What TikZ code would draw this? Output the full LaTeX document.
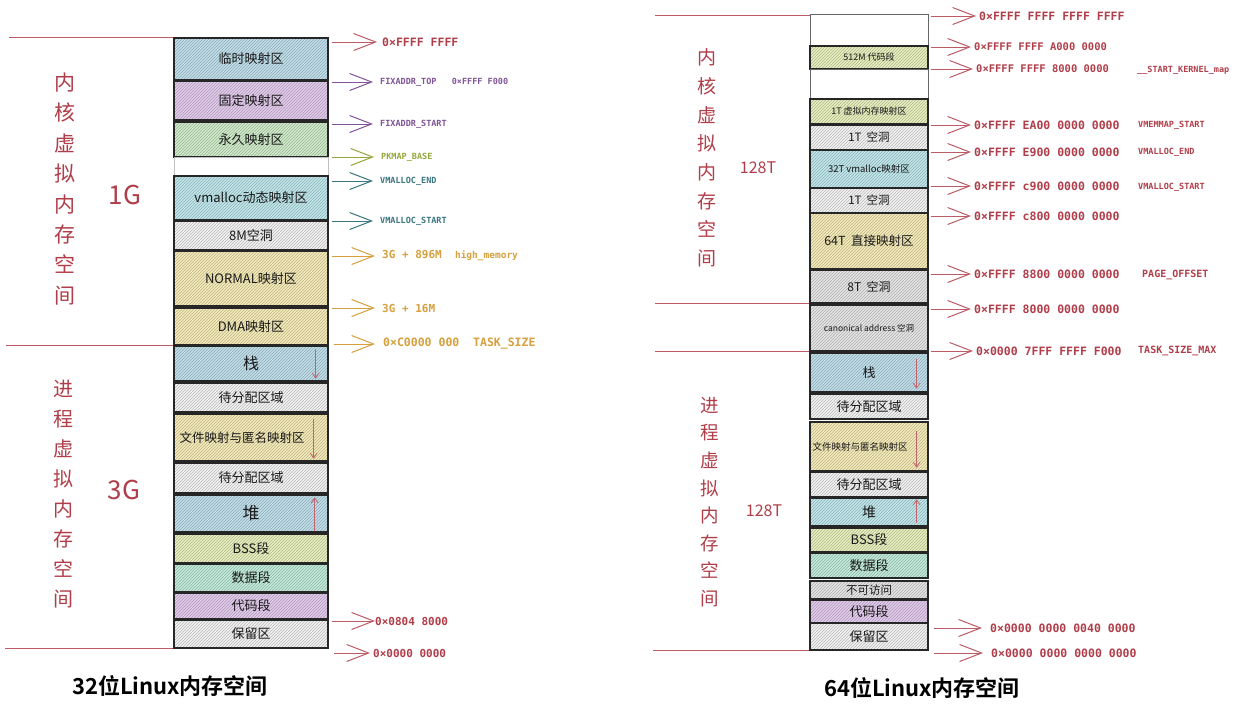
\documentclass[tikz,border=0pt]{standalone}
\usepackage{fontspec}
\setmainfont{Noto Sans CJK SC}[BoldFont={* Bold}]
\newfontfamily\mono{DejaVu Sans Mono}
\usetikzlibrary{patterns,arrows.meta}

\definecolor{cred}{RGB}{176,62,74}
\definecolor{cpurple}{RGB}{128,84,150}
\definecolor{colive}{RGB}{150,165,60}
\definecolor{cteal}{RGB}{58,118,128}
\definecolor{cgold}{RGB}{214,160,62}
\definecolor{fblue}{RGB}{192,224,236}
\definecolor{fpurple}{RGB}{228,204,238}
\definecolor{fgreen}{RGB}{208,236,202}
\definecolor{fcyan}{RGB}{192,232,236}
\definecolor{fgray}{RGB}{244,244,244}
\definecolor{fyellow}{RGB}{246,236,184}
\definecolor{flime}{RGB}{232,240,190}
\definecolor{fmint}{RGB}{194,236,220}
\definecolor{fdark}{RGB}{230,230,230}

\tikzset{
  seg/.style={draw=black!85, line width=1.3pt, minimum width=154pt, inner sep=0pt,
    preaction={fill=#1}, pattern=north east lines, pattern color=#1!75!black,
    text=black!90, font=\fontsize{13}{13}\selectfont},
  rseg/.style={seg=#1, minimum width=118pt},
  blank/.style={draw=black!60, line width=1pt, fill=white, inner sep=0pt},
  addr/.style={anchor=west, inner sep=0pt, font=\mono\bfseries\fontsize{11.5}{11.5}\selectfont},
  note/.style={anchor=west, inner sep=0pt, text=cred, font=\mono\bfseries\fontsize{8.5}{8.5}\selectfont},
  pt/.style={-{Straight Barb[length=22pt,width=17pt,line width=1pt]}, line width=0.9pt},
  sepline/.style={draw=cred!85, line width=0.9pt},
  vtext/.style={text=cred, align=center},
  growarrow/.style={-{Straight Barb[length=5pt,width=7pt]}, cred!80, line width=0.8pt},
}

\begin{document}
\begin{tikzpicture}[x=1pt, y=-1pt]
        \fill[white] (0,0) rectangle (1235,713);
        \useasboundingbox (0,0) rectangle (1235,713);

        % 32位: 内核空间
        \node[seg=fblue, minimum height=42pt] (ltmp) at (251,59) {临时映射区};
        \node[seg=fpurple, minimum height=39pt] (lfix) at (251,100.5) {固定映射区};
        \node[seg=fgreen, minimum height=35pt] (lperm) at (251,139.5) {永久映射区};
        \node[blank, draw=black!25, minimum width=154pt, minimum height=18pt] (lgap) at (251,166) {};
        \node[seg=fcyan, minimum height=44pt] (lvm) at (251,198) {vmalloc动态映射区};
        \node[seg=fgray, minimum height=29pt] (l8m) at (251,235.5) {8M空洞};
        \node[seg=fyellow, minimum height=55pt] (lnorm) at (251,278.5) {NORMAL映射区};
        \node[seg=fyellow, minimum height=37pt] (ldma) at (251,326.5) {DMA映射区};

        % 32位: 用户空间
        \node[seg=fblue, minimum height=35pt, font=\fontsize{16}{16}\selectfont] (lstack) at (251,363.5) {栈};
        \node[seg=fgray, minimum height=29pt] (lfree1) at (251,397.5) {待分配区域};
        \node[seg=fyellow, minimum height=47pt, font=\fontsize{12.5}{12.5}\selectfont] (lmmap) at (251,437.5) {文件映射与匿名映射区\hspace*{18pt}};
        \node[seg=fgray, minimum height=30pt] (lfree2) at (251,478) {待分配区域};
        \node[seg=fblue, minimum height=37pt, font=\fontsize{17}{17}\selectfont] (lheap) at (251,513.5) {堆};
        \node[seg=flime, minimum height=29pt] (lbss) at (251,548.5) {BSS段};
        \node[seg=fmint, minimum height=28pt] (ldata) at (251,578) {数据段};
        \node[seg=fpurple, minimum height=26pt] (ltext) at (251,606) {代码段};
        \node[seg=fgray, minimum height=28pt] (lres) at (251,634) {保留区};

        % 伸びる方向
        \draw[growarrow] ([xshift=-13pt,yshift=-4pt]lstack.north east) -- ([xshift=-13pt,yshift=3pt]lstack.south east);
        \draw[growarrow] ([xshift=-15pt,yshift=-6pt]lmmap.north east) -- ([xshift=-15pt,yshift=3pt]lmmap.south east);
        \draw[growarrow] ([xshift=-14pt,yshift=2pt]lheap.south east) -- ([xshift=-14pt,yshift=-3pt]lheap.north east);

        % 区切り線とラベル
        \draw[sepline] (ltmp.north west) -- ++(-164,0);
        \draw[sepline] (ldma.south west) -- ++(-167,0);
        \draw[sepline] (lres.south west) -- ++(-168,0);
        \node[vtext, font=\fontsize{21}{30.4}\selectfont] (lkern) at (65,189) {内\\核\\虚\\拟\\内\\存\\空\\间};
        \node[vtext, font=\fontsize{20}{30}\selectfont] (luser) at (63,494) {进\\程\\虚\\拟\\内\\存\\空\\间};
        \node[text=cred, font=\fontsize{26}{26}\selectfont] (l1g) at (125,195) {1G};
        \node[text=cred, font=\fontsize{26}{26}\selectfont] (l3g) at (124,490) {3G};

        % 32位: アドレス
        \node[addr, text=cred] (la1) at (382,42) {0×FFFF FFFF};
        \node[addr, text=cpurple, font=\mono\bfseries\fontsize{8.5}{8.5}\selectfont] (la2) at (380,82) {FIXADDR\_TOP\ \ \ 0×FFFF F000};
        \node[addr, text=cpurple, font=\mono\bfseries\fontsize{8.5}{8.5}\selectfont] (la3) at (380,124) {FIXADDR\_START};
        \node[addr, text=colive, font=\mono\bfseries\fontsize{8.5}{8.5}\selectfont] (la4) at (381,157) {PKMAP\_BASE};
        \node[addr, text=cteal, font=\mono\bfseries\fontsize{8.5}{8.5}\selectfont] (la5) at (380,181) {VMALLOC\_END};
        \node[addr, text=cteal, font=\mono\bfseries\fontsize{8.5}{8.5}\selectfont] (la6) at (380,221) {VMALLOC\_START};
        \node[addr, text=cgold, font=\mono\bfseries\fontsize{11}{11}\selectfont] (la7) at (382,256) {3G + 896M\ \ {\fontsize{9.5}{9.5}\selectfont high\_memory}};
        \node[addr, text=cgold, font=\mono\bfseries\fontsize{11}{11}\selectfont] (la8) at (382,308) {3G + 16M};
        \node[addr, text=cgold] (la9) at (383,344) {0×C0000 000\ \ TASK\_SIZE};
        \node[addr, text=cred, font=\mono\bfseries\fontsize{11}{11}\selectfont] (la10) at (375,621) {0×0804 8000};
        \node[addr, text=cred, font=\mono\bfseries\fontsize{11}{11}\selectfont] (la11) at (373,653) {0×0000 0000};
        \draw[pt, cred!85, shorten <=3pt, shorten >=5pt] (la1.west -| ltmp.east) -- (la1.west);
        \draw[pt, cpurple, shorten <=3pt, shorten >=7pt] (la2.west -| ltmp.east) -- (la2.west);
        \draw[pt, cpurple, shorten <=3pt, shorten >=7pt] (la3.west -| ltmp.east) -- (la3.west);
        \draw[pt, colive, shorten <=3pt, shorten >=7pt] (la4.west -| ltmp.east) -- (la4.west);
        \draw[pt, cteal, shorten <=3pt, shorten >=7pt] (la5.west -| ltmp.east) -- (la5.west);
        \draw[pt, cteal, shorten <=3pt, shorten >=7pt] (la6.west -| ltmp.east) -- (la6.west);
        \draw[pt, cgold, shorten <=3pt, shorten >=7pt] (la7.west -| ltmp.east) -- (la7.west);
        \draw[pt, cgold, shorten <=3pt, shorten >=7pt] (la8.west -| ltmp.east) -- (la8.west);
        \draw[pt, cgold, shorten <=5pt, shorten >=8pt] (la9.west -| ltmp.east) -- (la9.west);
        \draw[pt, cred!85, shorten <=3pt, shorten >=0pt] (la10.west -| ltmp.east) -- (la10.west);
        \draw[pt, cred!85, shorten <=5pt, shorten >=3pt] (la11.west -| ltmp.east) -- (la11.west);

        \node[font=\bfseries\fontsize{22}{22}\selectfont] (ltitle) at (170,686) {32位Linux内存空间};

        % 64位: 内核空间
        \node[blank, minimum width=118pt, minimum height=32pt] (rtop) at (869,30) {};
        \node[rseg=flime, minimum height=23pt, font=\fontsize{9}{9}\selectfont] (rkcode) at (869,57.5) {512M\ 代码段};
        \node[blank, minimum width=118pt, minimum height=30pt] (rgap) at (869,84) {};
        \node[rseg=flime, minimum height=25pt, font=\fontsize{9}{9}\selectfont] (rvmemmap) at (869,111.5) {1T\ 虚拟内存映射区};
        \node[rseg=fgray, minimum height=25pt, font=\fontsize{11.5}{11.5}\selectfont] (rhole1) at (869,137.5) {1T\ \ 空洞};
        \node[rseg=fcyan, minimum height=38pt, font=\fontsize{9.5}{9.5}\selectfont] (rvm) at (869,169) {32T vmalloc映射区};
        \node[rseg=fgray, minimum height=25pt, font=\fontsize{11.5}{11.5}\selectfont] (rhole2) at (869,200.5) {1T\ \ 空洞};
        \node[rseg=fyellow, minimum height=56pt, font=\fontsize{12.5}{12.5}\selectfont] (rdirect) at (869,241) {64T\ \ 直接映射区};
        \node[rseg=fdark, minimum height=33pt, font=\fontsize{12}{12}\selectfont] (rhole8) at (869,286.5) {8T\ \ 空洞};
        \node[rseg=fdark, minimum height=46pt, font=\fontsize{8.5}{8.5}\selectfont] (rcanon) at (869,328) {canonical\ address\ 空洞};

        % 64位: 用户空间
        \node[rseg=fblue, minimum height=39pt, font=\fontsize{13}{13}\selectfont] (rstack) at (869,372.5) {栈};
        \node[rseg=fgray, minimum height=25pt] (rfree1) at (869,406.5) {待分配区域};
        \node[rseg=fyellow, minimum height=49pt, font=\fontsize{9.5}{9.5}\selectfont] (rmmap) at (869,446.5) {文件映射与匿名映射区\hspace*{18pt}};
        \node[rseg=fgray, minimum height=25pt] (rfree2) at (869,484.5) {待分配区域};
        \node[rseg=fcyan, minimum height=28pt, font=\fontsize{14}{14}\selectfont] (rheap) at (869,512) {堆};
        \node[rseg=flime, minimum height=24pt] (rbss) at (869,540) {BSS段};
        \node[rseg=fmint, minimum height=25pt] (rdata) at (869,565.5) {数据段};
        \node[rseg=fdark, minimum height=18pt, font=\fontsize{11.5}{11.5}\selectfont] (rnoacc) at (869,590) {不可访问};
        \node[rseg=fpurple, minimum height=23pt] (rtext) at (869,611.5) {代码段};
        \node[rseg=fgray, minimum height=27pt] (rres) at (869,636.5) {保留区};

        % 伸びる方向
        \draw[growarrow] ([xshift=-12pt,yshift=-7pt]rstack.north east) -- ([xshift=-12pt,yshift=4pt]rstack.south east);
        \draw[growarrow] ([xshift=-12pt,yshift=-10pt]rmmap.north east) -- ([xshift=-12pt,yshift=4pt]rmmap.south east);
        \draw[growarrow] ([xshift=-12pt,yshift=4pt]rheap.south east) -- ([xshift=-12pt,yshift=-2pt]rheap.north east);

        % 区切り線とラベル
        \draw[sepline] ([yshift=-2pt]rtop.north west) -- ++(-155,0);
        \draw[sepline] (rhole8.south west) -- ++(-154,0);
        \draw[sepline] (rcanon.south west) -- ++(-154,0);
        \draw[sepline] (rres.south west) -- ++(-156,0);
        \node[vtext, font=\fontsize{19}{28.7}\selectfont] (rkern) at (707,158) {内\\核\\虚\\拟\\内\\存\\空\\间};
        \node[vtext, font=\fontsize{18.5}{27.6}\selectfont] (ruser) at (710,502) {进\\程\\虚\\拟\\内\\存\\空\\间};
        \node[text=cred, font=\fontsize{16}{16}\selectfont] (r128a) at (758,168) {128T};
        \node[text=cred, font=\fontsize{16}{16}\selectfont] (r128b) at (764,511) {128T};

        % 64位: アドレス
        \node[addr, text=cred] (ra1) at (979,16) {0×FFFF FFFF FFFF FFFF};
        \node[addr, text=cred, font=\mono\bfseries\fontsize{10.5}{10.5}\selectfont] (ra2) at (974,47) {0×FFFF FFFF A000 0000};
        \node[addr, text=cred, font=\mono\bfseries\fontsize{10.5}{10.5}\selectfont] (ra3) at (976,69) {0×FFFF FFFF 8000 0000};
        \node[addr, text=cred] (ra4) at (974,125) {0×FFFF EA00 0000 0000};
        \node[addr, text=cred] (ra5) at (974,152) {0×FFFF E900 0000 0000};
        \node[addr, text=cred] (ra6) at (974,186) {0×FFFF c900 0000 0000};
        \node[addr, text=cred] (ra7) at (974,216) {0×FFFF c800 0000 0000};
        \node[addr, text=cred] (ra8) at (974,274) {0×FFFF 8800 0000 0000};
        \node[addr, text=cred] (ra9) at (974,309) {0×FFFF 8000 0000 0000};
        \node[addr, text=cred] (ra10) at (976,351) {0×0000 7FFF FFFF F000};
        \node[addr, text=cred] (ra11) at (990,628) {0×0000 0000 0040 0000};
        \node[addr, text=cred] (ra12) at (991,653) {0×0000 0000 0000 0000};
        \node[note] (rn3) at (1137,70) {\_\_START\_KERNEL\_map};
        \node[note] (rn4) at (1138,125) {VMEMMAP\_START};
        \node[note] (rn5) at (1138,152) {VMALLOC\_END};
        \node[note] (rn6) at (1138,187) {VMALLOC\_START};
        \node[note, font=\mono\bfseries\fontsize{10}{10}\selectfont] (rn8) at (1142,275) {PAGE\_OFFSET};
        \node[note, font=\mono\bfseries\fontsize{10}{10}\selectfont] (rn10) at (1138,351) {TASK\_SIZE\_MAX};
        \foreach \a in {ra1,ra2,ra3,ra4,ra5,ra6,ra7,ra8,ra9,ra10}
            \draw[pt, cred!85, shorten <=2pt, shorten >=3pt] (\a.west -| rtop.east) -- (\a.west);
        \draw[pt, cred!85, shorten <=5pt, shorten >=8pt] (ra11.west -| rtop.east) -- (ra11.west);
        \draw[pt, cred!85, shorten <=5pt, shorten >=8pt] (ra12.west -| rtop.east) -- (ra12.west);

        \node[font=\bfseries\fontsize{22}{22}\selectfont] (rtitle) at (922,688) {64位Linux内存空间};
    \end{tikzpicture}
\end{document}
